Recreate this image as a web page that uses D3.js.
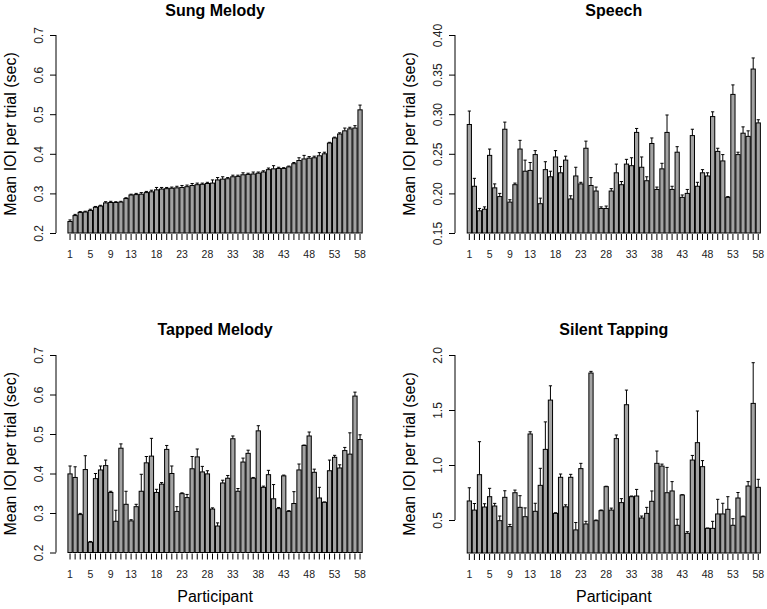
<!DOCTYPE html>
<html>
<head>
<meta charset="utf-8">
<script src="https://cdn.jsdelivr.net/npm/d3@7"></script>
<style>
  html, body { margin: 0; padding: 0; background: #fff; }
  svg { display: block; font-family: "Liberation Sans", Arial, Helvetica, sans-serif; }
</style>
</head>
<body>
<svg id="chart" width="767" height="609"></svg>
<script>
// ---------------- data ----------------
const participants = d3.range(1, 59);
const xTickLabels = [1, 5, 9, 13, 18, 23, 28, 33, 38, 43, 48, 53, 58];

const sungMean = [0.229,0.244,0.252,0.253,0.257,0.265,0.268,0.276,0.277,0.277,
  0.278,0.287,0.296,0.297,0.298,0.302,0.304,0.309,0.311,0.312,
  0.313,0.314,0.315,0.317,0.320,0.322,0.323,0.325,0.326,0.334,
  0.336,0.337,0.342,0.343,0.347,0.348,0.349,0.351,0.354,0.360,
  0.362,0.363,0.363,0.367,0.375,0.383,0.387,0.389,0.390,0.395,
  0.400,0.427,0.440,0.450,0.458,0.463,0.465,0.511];
const sungErr = [0.004,0.003,0.002,0.002,0.003,0.002,0.002,0.003,0.003,0.002,
  0.002,0.002,0.002,0.003,0.004,0.003,0.004,0.006,0.004,0.003,
  0.003,0.004,0.005,0.004,0.005,0.004,0.003,0.003,0.008,0.006,
  0.006,0.003,0.004,0.003,0.005,0.003,0.005,0.003,0.003,0.004,
  0.008,0.003,0.002,0.002,0.003,0.007,0.009,0.004,0.004,0.008,
  0.004,0.002,0.002,0.003,0.007,0.004,0.006,0.012];

const speechMean = [0.287,0.209,0.178,0.180,0.248,0.207,0.196,0.281,0.189,0.211,
  0.256,0.228,0.229,0.249,0.187,0.230,0.221,0.246,0.226,0.242,
  0.193,0.222,0.212,0.257,0.210,0.203,0.181,0.181,0.203,0.226,
  0.211,0.237,0.235,0.277,0.233,0.216,0.263,0.205,0.231,0.277,
  0.205,0.252,0.195,0.200,0.273,0.209,0.226,0.222,0.297,0.253,
  0.241,0.195,0.325,0.249,0.276,0.272,0.357,0.289];
const speechErr = [0.017,0.010,0.003,0.003,0.008,0.005,0.004,0.009,0.003,0.002,
  0.011,0.014,0.010,0.005,0.007,0.010,0.007,0.008,0.008,0.005,
  0.004,0.011,0.002,0.009,0.010,0.005,0.002,0.003,0.003,0.011,
  0.004,0.006,0.010,0.005,0.013,0.005,0.007,0.003,0.007,0.022,
  0.004,0.007,0.003,0.005,0.008,0.005,0.004,0.004,0.006,0.004,
  0.008,0.001,0.012,0.003,0.008,0.007,0.014,0.004];

const tappedMean = [0.399,0.390,0.296,0.410,0.226,0.387,0.409,0.420,0.352,0.279,
  0.464,0.322,0.280,0.316,0.355,0.427,0.444,0.352,0.373,0.461,
  0.400,0.304,0.349,0.339,0.412,0.442,0.404,0.399,0.310,0.267,
  0.376,0.388,0.488,0.355,0.429,0.451,0.388,0.508,0.365,0.397,
  0.336,0.311,0.394,0.304,0.324,0.409,0.471,0.495,0.403,0.338,
  0.327,0.407,0.441,0.414,0.458,0.449,0.596,0.486];
const tappedErr = [0.020,0.027,0.003,0.035,0.002,0.013,0.010,0.014,0.003,0.028,
  0.011,0.033,0.003,0.006,0.043,0.016,0.045,0.008,0.004,0.010,
  0.019,0.012,0.002,0.008,0.031,0.020,0.014,0.008,0.003,0.008,
  0.007,0.007,0.007,0.007,0.010,0.008,0.002,0.013,0.003,0.011,
  0.036,0.003,0.002,0.002,0.030,0.015,0.001,0.010,0.008,0.027,
  0.001,0.027,0.005,0.008,0.008,0.054,0.010,0.012];

const silentMean = [0.673,0.590,0.912,0.618,0.712,0.627,0.494,0.706,0.440,0.748,
  0.615,0.530,1.282,0.579,0.815,1.142,1.590,0.560,0.888,0.620,
  0.888,0.410,0.967,0.464,1.836,0.494,0.585,0.803,0.590,1.240,
  0.658,1.548,0.712,0.718,0.518,0.560,0.670,1.015,0.990,0.748,
  0.764,0.452,0.727,0.379,1.045,1.203,0.985,0.424,0.424,0.555,
  0.555,0.597,0.452,0.700,0.530,0.809,1.560,0.797];
const silentErr = [0.120,0.060,0.300,0.030,0.076,0.024,0.042,0.060,0.020,0.024,
  0.106,0.080,0.020,0.073,0.155,0.250,0.130,0.006,0.030,0.018,
  0.027,0.067,0.048,0.024,0.015,0.006,0.006,0.004,0.018,0.033,
  0.036,0.133,0.006,0.060,0.018,0.055,0.094,0.112,0.018,0.230,
  0.085,0.055,0.003,0.015,0.042,0.288,0.055,0.003,0.064,0.133,
  0.097,0.115,0.060,0.050,0.006,0.040,0.370,0.073];

const sungYTicks = [0.2, 0.3, 0.4, 0.5, 0.6, 0.7];
const speechYTicks = [0.15, 0.20, 0.25, 0.30, 0.35, 0.40];
const tappedYTicks = [0.2, 0.3, 0.4, 0.5, 0.6, 0.7];
const silentYTicks = [0.5, 1.0, 1.5, 2.0];

// ---------------- layout ----------------
const panels = [
  { title: "Sung Melody",   mean: sungMean,   err: sungErr,   yDomain: [0.2, 0.7],  yTicks: sungYTicks,   fmt: d3.format(".1f"),
    axisX: 56,  x0: 67.5,  x1: 362.6, top: 35,  bottom: 233,   titleY: 15.5, xlab: false },
  { title: "Speech",        mean: speechMean, err: speechErr, yDomain: [0.15, 0.40], yTicks: speechYTicks, fmt: d3.format(".2f"),
    axisX: 455, x0: 466.8, x1: 760.8, top: 35,  bottom: 233,   titleY: 15.5, xlab: false },
  { title: "Tapped Melody", mean: tappedMean, err: tappedErr, yDomain: [0.2, 0.7],  yTicks: tappedYTicks, fmt: d3.format(".1f"),
    axisX: 56,  x0: 67.5,  x1: 362.6, top: 355, bottom: 552.5, titleY: 335, xlab: true },
  { title: "Silent Tapping", mean: silentMean, err: silentErr, yDomain: [0.2, 2.0], yTicks: silentYTicks, fmt: d3.format(".1f"),
    axisX: 455, x0: 466.8, x1: 760.8, top: 355, bottom: 553,   titleY: 335, xlab: true }
];

const svg = d3.select("#chart");
const barFill = "#a3a3a3";

panels.forEach(p => {
  const g = svg.append("g");
  const x = d3.scaleBand().domain(participants).range([p.x0, p.x1])
    .paddingInner(0.2 / 1.2).paddingOuter(0.1 / 1.2);
  const y = d3.scaleLinear().domain(p.yDomain).range([p.bottom, p.top]);
  const plotRight = p.x1 + (p.x0 - p.axisX);
  const cx = (p.axisX + plotRight) / 2;

  const rows = participants.map((id, i) => ({ id, m: p.mean[i], e: p.err[i] }));

  // error bars (upper)
  const eb = g.append("g").attr("stroke", "#000").attr("stroke-width", 1);
  rows.forEach(d => {
    const xc = x(d.id) + x.bandwidth() / 2;
    eb.append("line").attr("x1", xc).attr("x2", xc).attr("y1", y(d.m)).attr("y2", y(d.m + d.e));
    eb.append("line").attr("x1", xc - 1.6).attr("x2", xc + 1.6).attr("y1", y(d.m + d.e)).attr("y2", y(d.m + d.e));
  });

  // bars
  g.append("g").selectAll("rect").data(rows).join("rect")
    .attr("x", d => x(d.id))
    .attr("width", x.bandwidth())
    .attr("y", d => y(d.m))
    .attr("height", d => y(p.yDomain[0]) - y(d.m))
    .attr("fill", barFill)
    .attr("stroke", "#000")
    .attr("stroke-width", 1);

  // y axis
  const yAxis = d3.axisLeft(y).tickValues(p.yTicks).tickSize(6).tickFormat(p.fmt).tickSizeOuter(0);
  const ya = g.append("g").attr("transform", `translate(${p.axisX},0)`).call(yAxis);
  ya.select(".domain").remove();
  ya.append("line").attr("x1", 0).attr("x2", 0)
    .attr("y1", y(p.yTicks[0])).attr("y2", y(p.yTicks[p.yTicks.length - 1]))
    .attr("stroke", "#000");
  ya.selectAll(".tick line").attr("stroke", "#000");
  ya.selectAll(".tick text")
    .attr("x", 0).attr("dy", null).attr("y", 0)
    .attr("transform", "translate(-13,0) rotate(-90)")
    .attr("text-anchor", "middle")
    .attr("font-size", 12)
    .attr("fill", "#222")
    .attr("font-family", "Liberation Sans, Arial, sans-serif");

  // x axis (ticks at each bar, labels at selected)
  const xAxis = d3.axisBottom(x).tickSize(6)
    .tickFormat(d => xTickLabels.includes(d) ? String(d) : "");
  const xa = g.append("g").attr("transform", `translate(0,${p.bottom + 1})`).call(xAxis);
  xa.select(".domain").remove();
  xa.selectAll(".tick line").attr("stroke", "#000");
  xa.selectAll(".tick text")
    .attr("y", 24).attr("dy", null)
    .attr("font-size", 10.5)
    .attr("fill", "#222")
    .attr("font-family", "Liberation Sans, Arial, sans-serif");

  // title
  g.append("text").attr("x", cx).attr("y", p.titleY)
    .attr("text-anchor", "middle").attr("font-weight", "bold").attr("font-size", 16)
    .attr("fill", "#000").text(p.title);

  // y label
  g.append("text")
    .attr("transform", `translate(${p.axisX - 40},${(p.top + p.bottom) / 2}) rotate(-90)`)
    .attr("text-anchor", "middle").attr("font-size", 16).attr("fill", "#000")
    .text("Mean IOI per trial (sec)");

  // x label
  if (p.xlab) {
    g.append("text").attr("x", cx).attr("y", 601.5)
      .attr("text-anchor", "middle").attr("font-size", 16).attr("fill", "#000")
      .text("Participant");
  }
});
</script>
</body>
</html>
